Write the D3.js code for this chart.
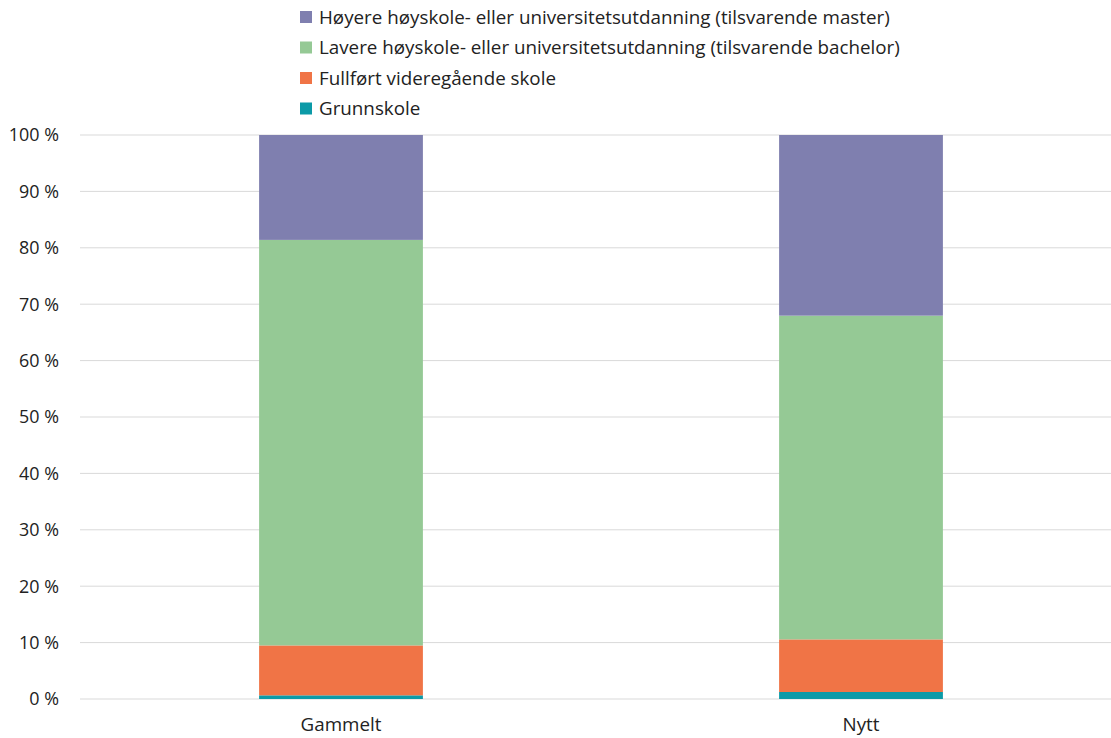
<!DOCTYPE html>
<html>
<head>
<meta charset="utf-8">
<script src="https://cdn.jsdelivr.net/npm/d3@7"></script>
<style>
  html, body { margin: 0; padding: 0; background: #fff; }
  svg { display: block; font-family: "Open Sans", "Liberation Sans", sans-serif; }
</style>
</head>
<body>
<svg id="chart" width="1111" height="738"></svg>
<script>
// Education level shares (percent) for the two groups
const categories = ["Gammelt", "Nytt"];
const seriesNames = [
  "Grunnskole",
  "Fullført videregående skole",
  "Lavere høyskole- eller universitetsutdanning (tilsvarende bachelor)",
  "Høyere høyskole- eller universitetsutdanning (tilsvarende master)"
];
const grunnskole = [0.65, 1.24];
const videregaende = [8.85, 9.33];
const bachelor = [71.9, 57.4];
const master = [18.6, 32.03];
const yTicks = [0, 10, 20, 30, 40, 50, 60, 70, 80, 90, 100];
const colors = ["#0B9AA7", "#F07446", "#95C995", "#7F7FAF"];

const seriesValues = [grunnskole, videregaende, bachelor, master];
const rows = categories.map((c, i) => {
  const r = { category: c };
  seriesNames.forEach((s, j) => { r[s] = seriesValues[j][i]; });
  return r;
});
const stacked = d3.stack().keys(seriesNames)(rows);

const svg = d3.select("#chart");
const plot = { left: 81, right: 1121, top: 135, bottom: 699 };

const x = d3.scaleBand().domain(categories).range([plot.left, plot.right]).paddingInner(0.685).paddingOuter(0.3425);
const y = d3.scaleLinear().domain([0, 100]).range([plot.bottom, plot.top]);

// Gridlines
svg.append("g").selectAll("line").data(yTicks).join("line")
  .attr("x1", 80).attr("x2", 1111)
  .attr("y1", d => y(d)).attr("y2", d => y(d))
  .attr("stroke", "#d9d9d9").attr("stroke-width", 1);

// Y tick labels
svg.append("g").selectAll("text").data(yTicks).join("text")
  .attr("x", 59).attr("y", d => y(d)).attr("dy", "0.36em")
  .attr("text-anchor", "end").attr("font-size", 17.9).attr("fill", "#222")
  .text(d => d + " %");

// Stacked bars
svg.append("g").selectAll("g").data(stacked).join("g")
  .attr("fill", (d, i) => colors[i])
  .selectAll("rect").data(d => d).join("rect")
  .attr("x", d => x(d.data.category))
  .attr("width", x.bandwidth())
  .attr("y", d => y(d[1]))
  .attr("height", d => y(d[0]) - y(d[1]));

// Category labels
svg.append("g").selectAll("text").data(categories).join("text")
  .attr("x", d => x(d) + x.bandwidth() / 2).attr("y", 724)
  .attr("dy", "0.36em").attr("text-anchor", "middle")
  .attr("font-size", 18.8).attr("fill", "#222")
  .text(d => d);

// Legend (top series first)
const legendItems = seriesNames.map((s, i) => ({ name: s, color: colors[i] })).reverse();
const lg = svg.append("g").selectAll("g").data(legendItems).join("g")
  .attr("transform", (d, i) => `translate(300, ${17 + i * 30.5})`);
lg.append("rect").attr("x", 0).attr("y", -6).attr("width", 12).attr("height", 12)
  .attr("fill", d => d.color);
lg.append("text").attr("x", 19).attr("y", 0).attr("dy", "0.36em")
  .attr("font-size", 18.8).attr("fill", "#222")
  .text(d => d.name);
</script>
</body>
</html>
